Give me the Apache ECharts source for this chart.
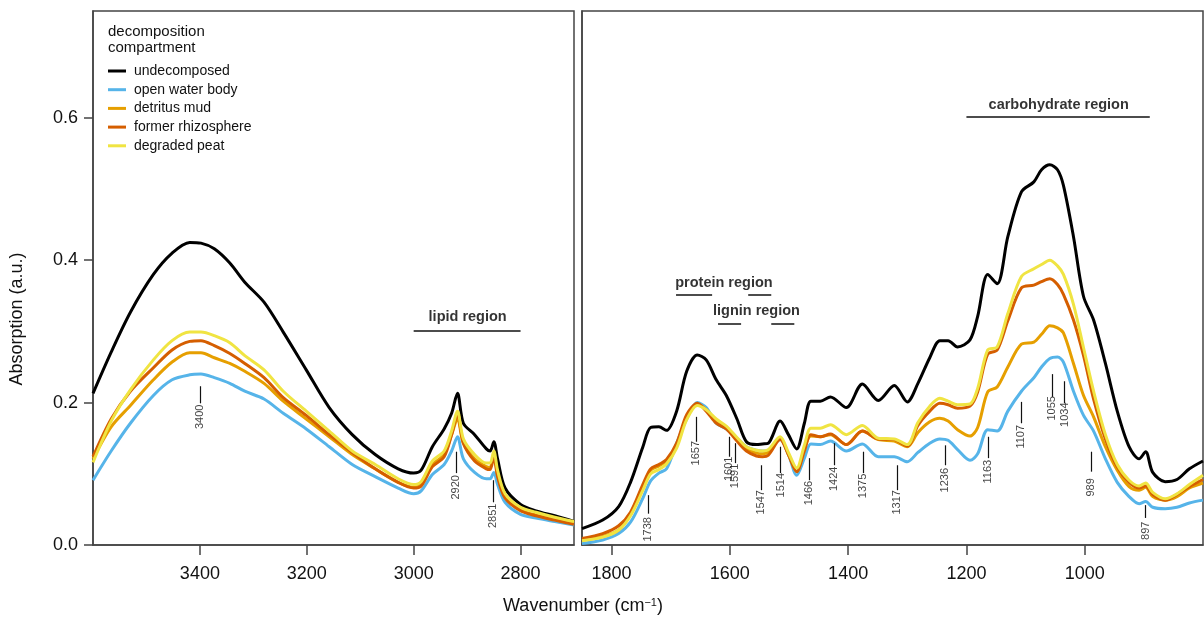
<!DOCTYPE html>
<html>
<head>
<meta charset="utf-8">
<script src="https://cdn.jsdelivr.net/npm/echarts@6/dist/echarts.min.js"></script>
<style>
  html, body { margin: 0; padding: 0; background: #fff; }
  #main { width: 1204px; height: 619px; }
</style>
</head>
<body>
<div id="main"></div>
<script>
// series names and colours
const names = ['undecomposed', 'open water body', 'detritus mud', 'former rhizosphere', 'degraded peat'];
const colors = ['#000000', '#56B4E9', '#E69F00', '#D55E00', '#F0E442'];

// left panel, 3600-2700 cm-1
const leftX = [3600, 3566, 3530, 3487, 3452, 3419, 3398, 3373, 3344, 3316, 3280, 3244, 3201, 3158, 3115, 3072, 3029, 3000, 2986, 2965, 2943, 2929, 2918, 2907, 2886, 2864, 2857, 2850, 2843, 2829, 2800, 2771, 2736, 2700];
const leftUndecomposed = [0.213, 0.271, 0.327, 0.380, 0.410, 0.425, 0.424, 0.416, 0.396, 0.369, 0.341, 0.299, 0.246, 0.193, 0.155, 0.127, 0.107, 0.101, 0.105, 0.138, 0.163, 0.185, 0.213, 0.171, 0.155, 0.135, 0.132, 0.145, 0.121, 0.080, 0.057, 0.048, 0.041, 0.033];
const leftOpenWater = [0.091, 0.132, 0.171, 0.210, 0.232, 0.239, 0.240, 0.235, 0.227, 0.216, 0.205, 0.185, 0.163, 0.138, 0.113, 0.096, 0.080, 0.072, 0.076, 0.099, 0.113, 0.132, 0.152, 0.121, 0.102, 0.093, 0.093, 0.102, 0.085, 0.060, 0.043, 0.038, 0.033, 0.028];
const leftDetritus = [0.121, 0.166, 0.196, 0.232, 0.257, 0.270, 0.270, 0.263, 0.255, 0.244, 0.227, 0.202, 0.177, 0.152, 0.127, 0.107, 0.088, 0.081, 0.085, 0.113, 0.127, 0.155, 0.177, 0.143, 0.121, 0.110, 0.109, 0.127, 0.099, 0.068, 0.049, 0.042, 0.037, 0.031];
const leftRhizo = [0.124, 0.177, 0.216, 0.249, 0.274, 0.286, 0.287, 0.280, 0.269, 0.255, 0.235, 0.207, 0.182, 0.155, 0.130, 0.107, 0.088, 0.080, 0.083, 0.110, 0.124, 0.155, 0.184, 0.143, 0.118, 0.107, 0.106, 0.124, 0.096, 0.066, 0.048, 0.041, 0.035, 0.029];
const leftPeat = [0.116, 0.174, 0.218, 0.260, 0.287, 0.299, 0.299, 0.294, 0.284, 0.266, 0.246, 0.216, 0.188, 0.160, 0.132, 0.113, 0.093, 0.085, 0.089, 0.118, 0.132, 0.160, 0.188, 0.149, 0.127, 0.115, 0.115, 0.132, 0.105, 0.072, 0.053, 0.046, 0.039, 0.033];

// right panel, 1850-800 cm-1
const rightX = [1850, 1815, 1788, 1768, 1747, 1734, 1720, 1707, 1690, 1673, 1655, 1640, 1623, 1606, 1588, 1572, 1555, 1545, 1535, 1515, 1501, 1487, 1474, 1463, 1447, 1430, 1403, 1376, 1349, 1322, 1300, 1282, 1262, 1245, 1231, 1215, 1194, 1181, 1164, 1148, 1130, 1107, 1086, 1073, 1059, 1046, 1036, 1019, 1002, 985, 965, 945, 925, 908, 897, 885, 864, 844, 823, 800];
const rightUndecomposed = [0.023, 0.035, 0.054, 0.088, 0.138, 0.165, 0.166, 0.161, 0.188, 0.244, 0.267, 0.260, 0.232, 0.210, 0.177, 0.145, 0.141, 0.142, 0.143, 0.174, 0.155, 0.135, 0.171, 0.202, 0.202, 0.208, 0.193, 0.226, 0.203, 0.224, 0.201, 0.227, 0.263, 0.287, 0.287, 0.278, 0.288, 0.321, 0.380, 0.367, 0.433, 0.496, 0.510, 0.527, 0.534, 0.527, 0.505, 0.433, 0.349, 0.316, 0.255, 0.188, 0.138, 0.121, 0.131, 0.102, 0.089, 0.092, 0.107, 0.118];
const rightOpenWater = [0.002, 0.007, 0.016, 0.032, 0.066, 0.090, 0.101, 0.107, 0.143, 0.177, 0.200, 0.193, 0.171, 0.163, 0.150, 0.138, 0.133, 0.132, 0.133, 0.148, 0.127, 0.098, 0.122, 0.142, 0.141, 0.146, 0.132, 0.142, 0.124, 0.124, 0.117, 0.130, 0.143, 0.149, 0.147, 0.134, 0.119, 0.128, 0.162, 0.160, 0.188, 0.216, 0.235, 0.250, 0.262, 0.264, 0.257, 0.216, 0.182, 0.160, 0.121, 0.088, 0.068, 0.058, 0.061, 0.053, 0.051, 0.053, 0.059, 0.063];
const rightDetritus = [0.007, 0.012, 0.021, 0.043, 0.082, 0.105, 0.111, 0.118, 0.140, 0.180, 0.198, 0.190, 0.174, 0.166, 0.148, 0.136, 0.129, 0.128, 0.130, 0.150, 0.127, 0.103, 0.135, 0.153, 0.152, 0.155, 0.141, 0.160, 0.148, 0.146, 0.138, 0.158, 0.173, 0.178, 0.174, 0.162, 0.153, 0.165, 0.215, 0.222, 0.250, 0.282, 0.285, 0.296, 0.308, 0.305, 0.298, 0.255, 0.210, 0.180, 0.138, 0.105, 0.082, 0.077, 0.081, 0.068, 0.063, 0.068, 0.080, 0.087];
const rightRhizo = [0.009, 0.016, 0.027, 0.046, 0.085, 0.107, 0.113, 0.120, 0.143, 0.183, 0.199, 0.188, 0.171, 0.163, 0.146, 0.132, 0.125, 0.124, 0.126, 0.148, 0.127, 0.103, 0.132, 0.155, 0.152, 0.156, 0.141, 0.160, 0.149, 0.148, 0.139, 0.168, 0.188, 0.199, 0.197, 0.192, 0.195, 0.215, 0.268, 0.274, 0.315, 0.361, 0.365, 0.370, 0.374, 0.366, 0.352, 0.316, 0.266, 0.205, 0.149, 0.110, 0.088, 0.080, 0.083, 0.071, 0.063, 0.071, 0.082, 0.092];
const rightPeat = [0.006, 0.011, 0.021, 0.041, 0.077, 0.100, 0.106, 0.114, 0.136, 0.176, 0.196, 0.190, 0.177, 0.167, 0.151, 0.138, 0.133, 0.132, 0.134, 0.152, 0.130, 0.108, 0.140, 0.164, 0.164, 0.169, 0.155, 0.168, 0.150, 0.149, 0.141, 0.172, 0.195, 0.206, 0.202, 0.197, 0.198, 0.220, 0.274, 0.278, 0.325, 0.377, 0.388, 0.394, 0.400, 0.392, 0.380, 0.338, 0.277, 0.216, 0.155, 0.113, 0.091, 0.083, 0.087, 0.074, 0.065, 0.072, 0.085, 0.098];

// tick labels
const leftTicks = [3400, 3200, 3000, 2800];
const rightTicks = [1800, 1600, 1400, 1200, 1000];
const yTicks = [0, 0.2, 0.4, 0.6];

// peak annotations: wavenumber, line top, line bottom, label centre
const leftPeaks = [3400, 2920, 2851];
const leftPeakTop = [0.223, 0.131, 0.091];
const leftPeakBottom = [0.199, 0.101, 0.060];
const leftPeakLabelY = [0.180, 0.081, 0.041];

const rightPeaks = [1738, 1657, 1601, 1591, 1547, 1514, 1466, 1424, 1375, 1317, 1236, 1163, 1107, 1055, 1034, 989, 897];
const rightPeakTop = [0.070, 0.180, 0.152, 0.143, 0.112, 0.138, 0.122, 0.143, 0.131, 0.112, 0.140, 0.152, 0.201, 0.240, 0.230, 0.131, 0.056];
const rightPeakBottom = [0.044, 0.145, 0.124, 0.115, 0.077, 0.101, 0.091, 0.112, 0.101, 0.077, 0.112, 0.122, 0.171, 0.208, 0.199, 0.103, 0.038];
const rightPeakLabelY = [0.022, 0.129, 0.107, 0.097, 0.060, 0.084, 0.073, 0.093, 0.083, 0.060, 0.091, 0.103, 0.152, 0.192, 0.183, 0.081, 0.020];

// region labels: text, text position, bar segments [from, to, y]
const leftRegions = [{ text: 'lipid region', x: 2899, y: 0.320 }];
const leftRegionBars = [[3000, 2800, 0.301]];
const rightRegions = [
  { text: 'protein region', x: 1610, y: 0.368 },
  { text: 'lignin region', x: 1555, y: 0.329 },
  { text: 'carbohydrate region', x: 1044, y: 0.618 }
];
const rightRegionBars = [[1691, 1630, 0.351], [1569, 1530, 0.351], [1620, 1581, 0.311], [1530, 1491, 0.311], [1200, 890, 0.601]];

const leftSets = [leftUndecomposed, leftOpenWater, leftDetritus, leftRhizo, leftPeat];
const rightSets = [rightUndecomposed, rightOpenWater, rightDetritus, rightRhizo, rightPeat];

const font = 'Liberation Sans, Arial, sans-serif';
const ink = '#444';

function pairs(xs, ys) {
  return xs.map((x, i) => [x, ys[i]]);
}

function spectrum(panel, xs, ys, i) {
  return {
    name: names[i],
    type: 'line',
    xAxisIndex: panel,
    yAxisIndex: panel,
    data: pairs(xs, ys),
    smooth: 0.3,
    showSymbol: false,
    symbol: 'none',
    color: colors[i],
    lineStyle: { width: 3, color: colors[i] },
    z: 2 + i
  };
}

function peaks(panel, xs, top, bottom, labelY) {
  return {
    type: 'scatter',
    xAxisIndex: panel,
    yAxisIndex: panel,
    symbolSize: 1,
    itemStyle: { color: 'rgba(0,0,0,0)' },
    data: xs.map((x, i) => [x, labelY[i]]),
    label: {
      show: true,
      position: 'inside',
      rotate: 90,
      fontFamily: font,
      fontSize: 11,
      color: '#111',
      formatter: (p) => String(p.value[0])
    },
    markLine: {
      silent: true,
      symbol: ['none', 'none'],
      label: { show: false },
      lineStyle: { color: '#111', width: 1.2, type: 'solid' },
      data: xs.map((x, i) => [{ coord: [x, top[i]] }, { coord: [x, bottom[i]] }])
    },
    z: 10
  };
}

function regions(panel, items, bars) {
  return {
    type: 'scatter',
    xAxisIndex: panel,
    yAxisIndex: panel,
    symbolSize: 1,
    itemStyle: { color: 'rgba(0,0,0,0)' },
    data: items.map((r) => ({ value: [r.x, r.y], name: r.text })),
    label: {
      show: true,
      position: 'inside',
      fontFamily: font,
      fontSize: 14.5,
      fontWeight: 'bold',
      color: '#000',
      formatter: (p) => p.name
    },
    markLine: {
      silent: true,
      symbol: ['none', 'none'],
      label: { show: false },
      lineStyle: { color: '#111', width: 1.5, type: 'solid' },
      data: bars.map((b) => [{ coord: [b[0], b[2]] }, { coord: [b[1], b[2]] }])
    },
    z: 10
  };
}

function xAxis(panel, min, max, ticks) {
  return {
    type: 'value',
    gridIndex: panel,
    min: min,
    max: max,
    inverse: true,
    axisLine: { show: true, lineStyle: { color: ink, width: 1.5 } },
    axisTick: { show: true, customValues: ticks, length: 10, lineStyle: { color: ink, width: 1.5 } },
    axisLabel: { customValues: ticks, margin: 20, fontFamily: font, fontSize: 18, color: '#111', formatter: (v) => String(v) },
    splitLine: { show: false }
  };
}

const series = [];
leftSets.forEach((ys, i) => series.push(spectrum(0, leftX, ys, i)));
rightSets.forEach((ys, i) => series.push(spectrum(1, rightX, ys, i)));
series.push(peaks(0, leftPeaks, leftPeakTop, leftPeakBottom, leftPeakLabelY));
series.push(peaks(1, rightPeaks, rightPeakTop, rightPeakBottom, rightPeakLabelY));
series.push(regions(0, leftRegions, leftRegionBars));
series.push(regions(1, rightRegions, rightRegionBars));

const chart = echarts.init(document.getElementById('main'));
chart.setOption({
  animation: false,
  backgroundColor: '#fff',
  grid: [
    { left: 93, right: 630, top: 11, bottom: 74, show: true, borderColor: ink, borderWidth: 1.5 },
    { left: 582, right: 1, top: 11, bottom: 74, show: true, borderColor: ink, borderWidth: 1.5 }
  ],
  xAxis: [xAxis(0, 2700, 3600, leftTicks), xAxis(1, 800, 1850, rightTicks)],
  yAxis: [
    {
      type: 'value', gridIndex: 0, min: 0, max: 0.75,
      axisLine: { show: true, lineStyle: { color: ink, width: 1.5 } },
      axisTick: { show: true, customValues: yTicks, length: 9, lineStyle: { color: ink, width: 1.5 } },
      axisLabel: { customValues: yTicks, margin: 15, fontFamily: font, fontSize: 18, color: '#111', formatter: (v) => v.toFixed(1) },
      splitLine: { show: false }
    },
    {
      type: 'value', gridIndex: 1, min: 0, max: 0.75,
      axisLine: { show: true, lineStyle: { color: ink, width: 1.5 } },
      axisTick: { show: false },
      axisLabel: { show: false },
      splitLine: { show: false }
    }
  ],
  legend: {
    data: names,
    orient: 'vertical',
    left: 108,
    top: 64,
    padding: 0,
    icon: 'rect',
    itemWidth: 18,
    itemHeight: 3,
    itemGap: 4.7,
    selectedMode: false,
    textStyle: { fontFamily: font, fontSize: 14, color: '#111', lineHeight: 14, padding: [0, 0, 0, 3] }
  },
  graphic: [
    { type: 'text', left: 108, top: 24, style: { text: 'decomposition\ncompartment', font: '15px ' + font, fill: '#111', lineHeight: 16 } },
    { type: 'text', x: 17, y: 319, rotation: Math.PI / 2, style: { text: 'Absorption (a.u.)', font: '18px ' + font, fill: '#111', align: 'center', verticalAlign: 'middle' } },
    {
      type: 'text', x: 583, y: 606,
      style: {
        text: 'Wavenumber (cm{sup|\u22121})',
        font: '18px ' + font, fill: '#111', align: 'center', verticalAlign: 'middle',
        rich: { sup: { fontSize: 11, fontFamily: font, verticalAlign: 'top', fill: '#111' } }
      }
    }
  ],
  series: series
});
</script>
</body>
</html>
